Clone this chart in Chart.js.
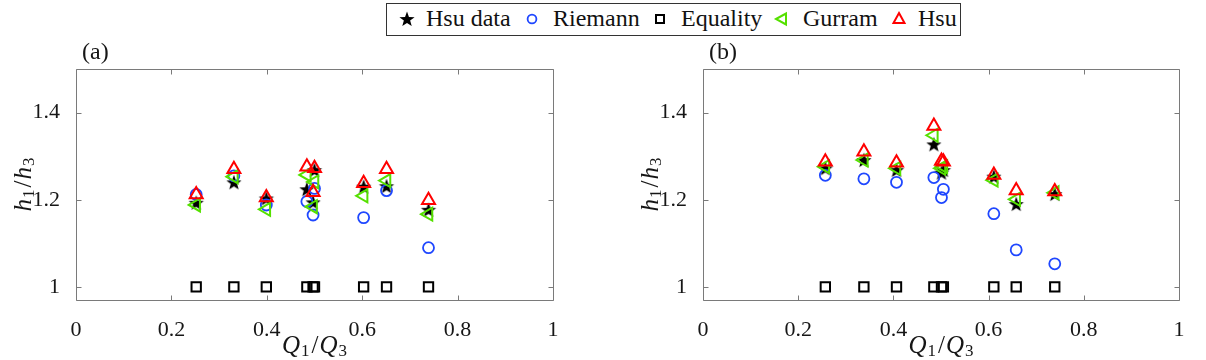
<!DOCTYPE html>
<html>
<head>
<meta charset="utf-8">
<title>h1/h3 against Q1/Q3</title>
<script src="https://cdn.jsdelivr.net/npm/chart.js@4.4.1/dist/chart.umd.min.js"></script>
<style>
  body { margin: 0; background: #fff; }
  #wrap { position: relative; width: 1206px; height: 360px; overflow: hidden; }
  .panel { position: absolute; top: 0; width: 603px; height: 360px; }
  #legend {
    position: absolute; left: 386px; top: 3px; width: 573px; height: 31px;
    border: 1px solid #333; background: #fff;
    font-family: 'Liberation Serif', serif; font-size: 24px; color: #111;
  }
  #legend .item { position: absolute; top: -1px; height: 31px; line-height: 31px; white-space: nowrap; }
  #legend canvas { position: absolute; top: 6px; }
</style>
</head>
<body>
<div id="wrap">
  <div class="panel" style="left:0"><canvas id="chartA"></canvas></div>
  <div class="panel" style="left:603px"><canvas id="chartB"></canvas></div>
  <div id="legend"></div>
</div>
<script>
// axis ticks
const xTicks = [0, 0.2, 0.4, 0.6, 0.8, 1];
const yTicks = [1, 1.2, 1.4];

// panel (a)
const qA        = [0.252, 0.331, 0.399, 0.484, 0.500, 0.497, 0.603, 0.651, 0.739];
const hsuDataA  = [1.193, 1.240, 1.203, 1.224, 1.268, 1.194, 1.230, 1.231, 1.177];
const riemannA  = [1.212, 1.255, 1.188, 1.196, 1.226, 1.165, 1.159, 1.221, 1.090];
const equalityA = [1, 1, 1, 1, 1, 1, 1, 1, 1];
const gurramA   = [1.188, 1.253, 1.178, 1.257, 1.241, 1.184, 1.209, 1.244, 1.167];
const hsuA      = [1.212, 1.270, 1.205, 1.276, 1.272, 1.217, 1.238, 1.270, 1.199];

// panel (b)
const qB        = [0.257, 0.338, 0.4065, 0.485, 0.501, 0.505, 0.611, 0.658, 0.739];
const hsuDataB  = [1.272, 1.291, 1.268, 1.327, 1.262, 1.268, 1.253, 1.190, 1.213];
const riemannB  = [1.256, 1.248, 1.240, 1.251, 1.205, 1.224, 1.168, 1.085, 1.053];
const equalityB = [1, 1, 1, 1, 1, 1, 1, 1, 1];
const gurramB   = [1.276, 1.291, 1.272, 1.348, 1.272, 1.276, 1.245, 1.201, 1.216];
const hsuB      = [1.287, 1.310, 1.285, 1.369, 1.289, 1.287, 1.257, 1.221, 1.219];

const SERIF = "'Liberation Serif', 'DejaVu Serif', serif";
const TEXT = '#161616';
const AXIS = '#7a7a7a';
const BLUE = '#1f47ff';
const GREEN = '#55e000';
const RED = '#ff0000';

// filled five point star, used for "Hsu data"
function starCanvas() {
  const c = document.createElement('canvas');
  c.width = 18; c.height = 18;
  const g = c.getContext('2d');
  g.fillStyle = '#000';
  g.beginPath();
  for (let i = 0; i < 10; i++) {
    const r = i % 2 === 0 ? 8 : 3.3;
    const a = -Math.PI / 2 + i * Math.PI / 5;
    const px = 9 + r * Math.cos(a), py = 9.6 + r * Math.sin(a);
    if (i === 0) g.moveTo(px, py); else g.lineTo(px, py);
  }
  g.closePath();
  g.fill();
  return c;
}

function points(xs, ys) {
  return xs.map((x, i) => ({ x: x, y: ys[i] }));
}

function makeDatasets(xs, hsuData, riemann, equality, gurram, hsu) {
  return [
    { label: 'Hsu data', data: points(xs, hsuData), pointStyle: starCanvas(), pointRadius: 8, order: 4 },
    { label: 'Riemann', data: points(xs, riemann), pointStyle: 'circle', pointRadius: 5.5,
      pointBorderColor: BLUE, pointBackgroundColor: 'rgba(0,0,0,0)', pointBorderWidth: 1.8, order: 3 },
    { label: 'Equality', data: points(xs, equality), pointStyle: 'rect', pointRadius: 6.6,
      pointBorderColor: '#000', pointBackgroundColor: 'rgba(0,0,0,0)', pointBorderWidth: 2, order: 2 },
    { label: 'Gurram', data: points(xs, gurram), pointStyle: 'triangle', pointRotation: -90, pointRadius: 7.5,
      pointBorderColor: GREEN, pointBackgroundColor: 'rgba(0,0,0,0)', pointBorderWidth: 2, order: 1 },
    { label: 'Hsu', data: points(xs, hsu), pointStyle: 'triangle', pointRadius: 7.5,
      pointBorderColor: RED, pointBackgroundColor: 'rgba(0,0,0,0)', pointBorderWidth: 2, order: 0 }
  ];
}

// box round the axes with inward ticks, matlab style
const framePlugin = {
  id: 'frame',
  beforeDatasetsDraw(chart) {
    const { ctx, chartArea: a, scales: { x, y } } = chart;
    const L = Math.round(a.left) + 0.5, R = Math.round(a.right) + 0.5;
    const T = Math.round(a.top) + 0.5, B = Math.round(a.bottom) + 0.5;
    ctx.save();
    ctx.strokeStyle = AXIS;
    ctx.lineWidth = 1;
    ctx.beginPath();
    ctx.rect(L, T, R - L, B - T);
    xTicks.forEach(v => {
      const px = Math.round(x.getPixelForValue(v)) + 0.5;
      ctx.moveTo(px, B); ctx.lineTo(px, B - 5);
      ctx.moveTo(px, T); ctx.lineTo(px, T + 5);
    });
    yTicks.forEach(v => {
      const py = Math.round(y.getPixelForValue(v)) + 0.5;
      ctx.moveTo(L, py); ctx.lineTo(L + 5, py);
      ctx.moveTo(R, py); ctx.lineTo(R - 5, py);
    });
    ctx.stroke();
    ctx.restore();
  }
};

// draws italic letters with small upright subscripts, centred on (cx, cy)
function drawMath(ctx, parts, cx, cy) {
  const big = 'italic 25px ' + SERIF, up = '25px ' + SERIF, small = '17px ' + SERIF;
  const fontOf = p => p.sub ? small : (p.it ? big : up);
  let w = 0;
  parts.forEach(p => { ctx.font = fontOf(p); w += ctx.measureText(p.t).width + (p.gap || 0); });
  let x = cx - w / 2;
  ctx.textBaseline = 'middle';
  ctx.textAlign = 'left';
  parts.forEach(p => {
    ctx.font = fontOf(p);
    ctx.fillText(p.t, x, cy + (p.sub ? 6 : 0));
    x += ctx.measureText(p.t).width + (p.gap || 0);
  });
}

const labelPlugin = {
  id: 'mathLabels',
  afterDraw(chart, args, opts) {
    const { ctx, chartArea: a } = chart;
    ctx.save();
    ctx.fillStyle = TEXT;
    // x title
    drawMath(ctx, [
      { t: 'Q', it: true, gap: 1 }, { t: '1', sub: true, gap: 2 }, { t: '/', gap: 1 },
      { t: 'Q', it: true, gap: 1 }, { t: '3', sub: true }
    ], (a.left + a.right) / 2, 346);
    // y title
    ctx.save();
    ctx.translate(a.left - 52, (a.top + a.bottom) / 2);
    ctx.rotate(-Math.PI / 2);
    drawMath(ctx, [
      { t: 'h', it: true, gap: 1 }, { t: '1', sub: true, gap: 2 }, { t: '/', gap: 1 },
      { t: 'h', it: true, gap: 1 }, { t: '3', sub: true }
    ], 0, 0);
    ctx.restore();
    // panel tag
    ctx.font = '24px ' + SERIF;
    ctx.textBaseline = 'middle';
    ctx.textAlign = 'left';
    ctx.fillText(opts.tag, a.left + 6, 53);
    ctx.restore();
  }
};

function makeChart(id, tag, leftW, rightPad, datasets) {
  const tickFont = { family: SERIF, size: 22 };
  return new Chart(document.getElementById(id), {
    type: 'scatter',
    data: { datasets: datasets },
    options: {
      responsive: false,
      maintainAspectRatio: false,
      animation: false,
      events: [],
      layout: { padding: { top: 69, right: rightPad, left: 0, bottom: 0 } },
      plugins: {
        legend: { display: false },
        tooltip: { enabled: false },
        mathLabels: { tag: tag }
      },
      scales: {
        x: {
          type: 'linear', min: 0, max: 1,
          afterBuildTicks: s => { s.ticks = xTicks.map(v => ({ value: v })); },
          afterFit: s => { s.height = 60; },
          grid: { display: false },
          border: { display: false },
          ticks: { padding: 9, color: TEXT, font: tickFont, maxRotation: 0, autoSkip: false, callback: v => String(v) }
        },
        y: {
          type: 'linear', min: 0.97, max: 1.5,
          afterBuildTicks: s => { s.ticks = yTicks.map(v => ({ value: v })); },
          afterFit: s => { s.width = leftW; },
          grid: { display: false },
          border: { display: false },
          ticks: { padding: 8, color: TEXT, font: tickFont, autoSkip: false, callback: v => String(v) }
        }
      }
    },
    plugins: [framePlugin, labelPlugin]
  });
}

['chartA', 'chartB'].forEach(id => {
  const c = document.getElementById(id);
  c.width = 603; c.height = 360;
  c.style.width = '603px'; c.style.height = '360px';
});

makeChart('chartA', '(a)', 76, 50, makeDatasets(qA, hsuDataA, riemannA, equalityA, gurramA, hsuA));
makeChart('chartB', '(b)', 100, 27, makeDatasets(qB, hsuDataB, riemannB, equalityB, gurramB, hsuB));

// shared legend above both panels
const legendItems = [
  { label: 'Hsu data', kind: 'star', mx: 20, tx: 39 },
  { label: 'Riemann', kind: 'circle', mx: 145, tx: 166 },
  { label: 'Equality', kind: 'square', mx: 273, tx: 294 },
  { label: 'Gurram', kind: 'left', mx: 395, tx: 416 },
  { label: 'Hsu', kind: 'up', mx: 512, tx: 531 }
];

function drawMarker(g, kind) {
  g.lineWidth = 2;
  g.beginPath();
  if (kind === 'star') {
    g.drawImage(starCanvas(), 0, 0);
    return;
  }
  if (kind === 'circle') {
    g.strokeStyle = BLUE; g.lineWidth = 1.8;
    g.arc(9, 9, 4.4, 0, Math.PI * 2);
  } else if (kind === 'square') {
    g.strokeStyle = '#000';
    g.rect(5, 5, 8, 8);
  } else if (kind === 'left') {
    g.strokeStyle = GREEN;
    g.moveTo(3, 9); g.lineTo(13, 3.5); g.lineTo(13, 14.5); g.closePath();
  } else {
    g.strokeStyle = RED;
    g.moveTo(9, 3); g.lineTo(14.5, 13); g.lineTo(3.5, 13); g.closePath();
  }
  g.stroke();
}

const legendBox = document.getElementById('legend');
legendItems.forEach(it => {
  const c = document.createElement('canvas');
  c.width = 18; c.height = 18;
  c.style.left = (it.mx - 9) + 'px';
  drawMarker(c.getContext('2d'), it.kind);
  legendBox.appendChild(c);
  const s = document.createElement('span');
  s.className = 'item';
  s.style.left = it.tx + 'px';
  s.textContent = it.label;
  legendBox.appendChild(s);
});
</script>
</body>
</html>
